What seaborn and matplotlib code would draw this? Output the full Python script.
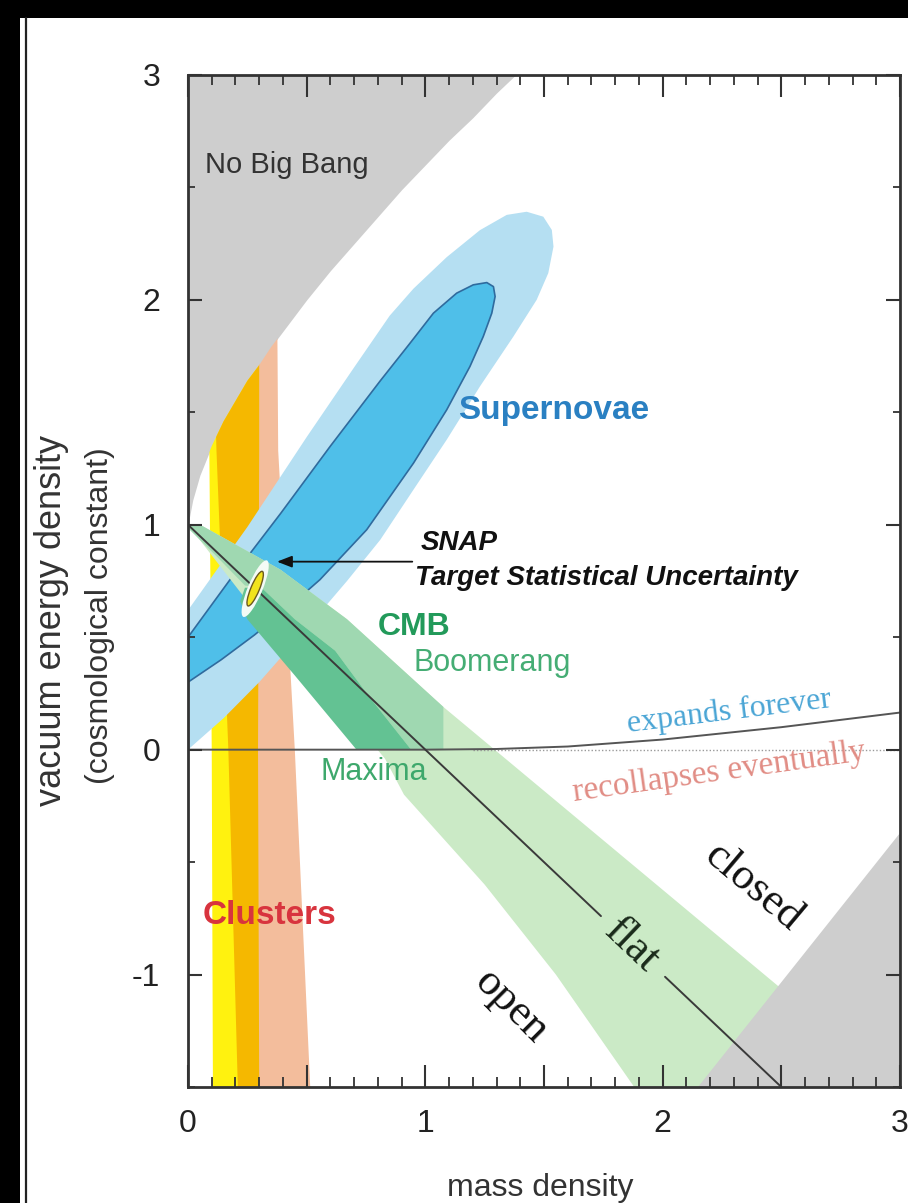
import numpy as np
import pandas as pd
import matplotlib
matplotlib.use("Agg")
import matplotlib.pyplot as plt
from matplotlib.patches import Polygon, Ellipse, Rectangle
from matplotlib.ticker import MultipleLocator, FuncFormatter
import seaborn as sns

# ---------------- data: mass density (x) vs vacuum energy density (y) ----------------
# edge of the "No Big Bang" region
nbb_x = [0.0, 0.02, 0.05, 0.1, 0.15, 0.2, 0.25, 0.3, 0.35, 0.4, 0.45, 0.5, 0.6, 0.7,
         0.8, 0.9, 1.0, 1.1, 1.2, 1.3, 1.4]
nbb_y = [1.0, 1.11, 1.22, 1.35, 1.46, 1.55, 1.64, 1.71, 1.79, 1.86, 1.93, 2.0, 2.13, 2.25,
         2.37, 2.49, 2.60, 2.71, 2.81, 2.92, 3.02]

# cluster bands: edge positions at a few heights
band_y = [-1.5, 0.0, 1.33, 2.1]
yellow_left = [0.105, 0.10, 0.09, 0.085]
orange_left = [0.21, 0.17, 0.12, 0.10]
orange_right = [0.30, 0.295, 0.30, 0.30]
pink_right = [0.515, 0.45, 0.38, 0.375]

# supernova confidence contours
sn_outer_x = [-0.1, 0.0, 0.25, 0.5, 0.7, 0.85, 0.95, 1.09, 1.23, 1.343, 1.427, 1.497,
              1.533, 1.54, 1.518, 1.469, 1.371, 1.23, 1.09, 0.95, 0.81, 0.67, 0.5, 0.3,
              0.15, 0.0, -0.1]
sn_outer_y = [0.47, 0.62, 0.99, 1.39, 1.70, 1.93, 2.05, 2.19, 2.31, 2.378, 2.392, 2.37,
              2.311, 2.237, 2.119, 2.0, 1.837, 1.615, 1.378, 1.156, 0.933, 0.75, 0.54, 0.30,
              0.14, 0.0, -0.1]
sn_inner_x = [-0.1, 0.0, 0.177, 0.39, 0.60, 0.81, 0.93, 1.034, 1.132, 1.202, 1.259, 1.287,
              1.294, 1.28, 1.244, 1.188, 1.09, 0.95, 0.753, 0.556, 0.42, 0.28, 0.14, 0.0, -0.1]
sn_inner_y = [0.36, 0.50, 0.756, 1.05, 1.35, 1.64, 1.80, 1.941, 2.03, 2.067, 2.077, 2.059,
              2.015, 1.941, 1.837, 1.704, 1.511, 1.274, 0.978, 0.756, 0.63, 0.51, 0.40, 0.30, 0.23]

# CMB constraints
cmb_x = [0.0, 0.06, 0.39, 0.67, 1.076, 2.55, 2.35, 1.95, 1.88, 1.55, 1.25, 0.91, 0.83, 0.60, 0.25, 0.0]
cmb_y = [1.0, 0.995, 0.80, 0.58, 0.19, -1.107, -1.62, -1.62, -1.5, -1.0, -0.60, -0.20, -0.04, 0.25, 0.66, 1.0]
boom_x = [0.0, 0.06, 0.39, 0.67, 1.076, 1.076, 0.94, 0.76, 0.62, 0.45, 0.31, 0.24, 0.12, 0.0]
boom_y = [1.0, 0.995, 0.80, 0.58, 0.19, 0.0, 0.0, 0.24, 0.44, 0.58, 0.72, 0.73, 0.86, 0.985]
maxi_x = [0.24, 0.31, 0.45, 0.62, 0.76, 0.94, 0.71, 0.45, 0.25, 0.22]
maxi_y = [0.72, 0.72, 0.58, 0.44, 0.24, 0.0, 0.0, 0.33, 0.58, 0.66]

# recollapse region (lower right)
rec_x = [3.0, 3.0, 2.15]
rec_y = [-0.37, -1.5, -1.5]

# expand / recollapse dividing line
div_x = [0.0, 1.0, 1.3, 1.6, 2.0, 2.5, 3.0]
div_y = [0.0, 0.0, 0.003, 0.014, 0.045, 0.10, 0.165]

# flat universe line, split around its label
flat_x = [0.0, 1.74, 2.01, 2.5]
flat_y = [1.0, -0.74, -1.01, -1.5]
flat_seg = ["a", "a", "b", "b"]

# SNAP target ellipse: centre, full axes, angle
snap_c = (0.283, 0.716)
snap_axes = (0.165, 0.036)
halo_axes = (0.27, 0.062)
snap_angle = 68.5

# arrow from the SNAP label to the ellipse
arrow_from = (0.945, 0.836)
arrow_to = (0.375, 0.836)

# ---------------- styling ----------------
sns.set_style("ticks")
plt.rcParams["font.family"] = ["Liberation Sans", "DejaVu Sans"]
SERIF = ["Liberation Serif", "DejaVu Serif"]

W, H = 908, 1203
fig = plt.figure(figsize=(W / 100, H / 100), dpi=100, facecolor="black")

# white panel with a thin inner rule on the left
fig.patches.append(Rectangle((20 / W, 0), 1, 1 - 18 / H, transform=fig.transFigure,
                             facecolor="white", edgecolor="none", zorder=-10))
fig.add_artist(plt.Line2D([26 / W, 26 / W], [0, 1 - 18 / H], transform=fig.transFigure,
                          color="#222222", lw=1.6, zorder=-5))

ax = fig.add_axes([188 / W, 1 - 1087 / H, (900 - 188) / W, (1087 - 75) / H])
ax.set_zorder(1)
ax.set_xlim(0, 3)
ax.set_ylim(-1.5, 3)
ax.set_facecolor("white")

GRAY = "#cecece"

# No Big Bang region
ax.fill_between(nbb_x, nbb_y, 3.2, color=GRAY, lw=0, zorder=1)

# region below the No Big Bang edge, used to trim the cluster bands
below = Polygon(list(zip(nbb_x, nbb_y)) + [(1.4, -2), (0, -2)], closed=True,
                transform=ax.transData, facecolor="none", edgecolor="none")
ax.add_patch(below)


def band(left, right, color, z):
    pts = list(zip(left, band_y)) + list(zip(right, band_y))[::-1]
    p = Polygon(pts, closed=True, facecolor=color, edgecolor="none", zorder=z)
    ax.add_patch(p)
    p.set_clip_path(below)


band(yellow_left, orange_right, "#fff20f", 2)
band(orange_left, orange_right, "#f5b800", 3)
band([v - 0.01 for v in orange_right], pink_right, "#f3bd9c", 2.5)

# supernova contours
ax.add_patch(Polygon(list(zip(sn_outer_x, sn_outer_y)), closed=True,
                     facecolor="#b5dff2", edgecolor="none", zorder=4))
ax.add_patch(Polygon(list(zip(sn_inner_x, sn_inner_y)), closed=True,
                     facecolor="#4fbfe9", edgecolor="#2f6b9e", lw=1.2, zorder=5,
                     joinstyle="round"))

# CMB contours
ax.add_patch(Polygon(list(zip(cmb_x, cmb_y)), closed=True,
                     facecolor="#cbeac6", edgecolor="none", zorder=6))
ax.add_patch(Polygon(list(zip(boom_x, boom_y)), closed=True,
                     facecolor="#9fd8b1", edgecolor="none", zorder=7))
ax.add_patch(Polygon(list(zip(maxi_x, maxi_y)), closed=True,
                     facecolor="#63c293", edgecolor="none", zorder=8))

# recollapse region
ax.fill(rec_x, rec_y, color=GRAY, lw=0, zorder=9)

# dividing lines
ax.plot([1.2, 3.0], [0.0, 0.0], ls=(0, (1, 1.5)), color="#9a9a9a", lw=1.0, zorder=10)
sns.lineplot(x=div_x, y=div_y, ax=ax, color="#555555", lw=1.4, zorder=11,
             sort=False, estimator=None)
flat_df = pd.DataFrame({"x": flat_x, "y": flat_y, "seg": flat_seg})
sns.lineplot(data=flat_df, x="x", y="y", units="seg", estimator=None, sort=False,
             ax=ax, color="#3a3a3a", lw=1.4, zorder=11)

# SNAP ellipse
ax.add_patch(Ellipse(snap_c, halo_axes[0], halo_axes[1], angle=snap_angle,
                     facecolor="#f4fbf6", edgecolor="none", zorder=12))
ax.add_patch(Ellipse(snap_c, snap_axes[0], snap_axes[1], angle=snap_angle,
                     facecolor="#f2e41e", edgecolor="#6b5a20", lw=1.0, zorder=13))
ax.annotate("", xy=arrow_to, xytext=arrow_from, zorder=14,
            arrowprops=dict(arrowstyle="-|>,head_length=0.9,head_width=0.35",
                            color="#111111", lw=1.3, shrinkA=0, shrinkB=0))

# labels
ax.text(0.072, 2.60, "No Big Bang", fontsize=21, color="#333333", va="center", zorder=15)
ax.text(1.14, 1.51, "Supernovae", fontsize=24, fontweight="bold", color="#2a80c2",
        va="center", zorder=15)
ax.text(0.98, 0.92, "SNAP", fontsize=20, fontweight="bold", style="italic",
        color="#111111", va="center", zorder=15)
ax.text(0.955, 0.765, "Target Statistical Uncertainty", fontsize=20, fontweight="bold",
        style="italic", color="#111111", va="center", zorder=15)
ax.text(0.80, 0.547, "CMB", fontsize=23, fontweight="bold", color="#229a5a",
        va="center", zorder=15)
ax.text(0.95, 0.387, "Boomerang", fontsize=22, color="#45ad74", va="center", zorder=15)
ax.text(0.557, -0.098, "Maxima", fontsize=22, color="#3ea86c", va="center", zorder=15)
ax.text(0.06, -0.738, "Clusters", fontsize=24, fontweight="bold", color="#d8343e",
        va="center", zorder=15)
ax.text(2.28, 0.17, "expands forever", fontsize=23, family=SERIF, color="#4aa5d5",
        rotation=7, ha="center", va="center", rotation_mode="anchor", zorder=15)
ax.text(2.24, -0.10, "recollapses eventually", fontsize=24, family=SERIF,
        color="#e18d85", rotation=8, ha="center", va="center", rotation_mode="anchor",
        zorder=15)
ax.text(2.38, -0.61, "closed", fontsize=32, family=SERIF, color="#111111",
        rotation=-40, ha="center", va="center", rotation_mode="anchor", zorder=15)
ax.text(1.87, -0.87, "flat", fontsize=32, family=SERIF, color="#1a2a1a",
        rotation=-43.5, ha="center", va="center", rotation_mode="anchor", zorder=15)
ax.text(1.36, -1.14, "open", fontsize=32, family=SERIF, color="#111111",
        rotation=-45, ha="center", va="center", rotation_mode="anchor", zorder=15)

# axes, ticks (kept above the shaded regions)
for s in ax.spines.values():
    s.set_color("#333333")
    s.set_linewidth(2.0)
    s.set_zorder(20)
ax.xaxis.set_zorder(30)
ax.yaxis.set_zorder(30)
ax.xaxis.set_major_locator(MultipleLocator(0.5))
ax.xaxis.set_minor_locator(MultipleLocator(0.1))
ax.xaxis.set_major_formatter(FuncFormatter(lambda v, p: "%d" % v if abs(v - round(v)) < 1e-6 else ""))
ax.yaxis.set_major_locator(MultipleLocator(1))
ax.yaxis.set_minor_locator(MultipleLocator(0.5))
ax.yaxis.set_major_formatter(FuncFormatter(lambda v, p: "%d" % v))
ax.tick_params(axis="x", which="major", direction="in", length=16, width=1.5,
               top=True, bottom=True, labelsize=23, pad=16, colors="#333333",
               labelcolor="#222222")
ax.tick_params(axis="x", which="minor", direction="in", length=7, width=1.3,
               top=True, bottom=True, colors="#333333")
ax.tick_params(axis="y", which="major", direction="in", length=10, width=1.5,
               left=True, right=True, labelsize=23, pad=20, colors="#333333",
               labelcolor="#222222")
ax.tick_params(axis="y", which="minor", direction="in", length=5, width=1.3,
               left=True, right=True, colors="#333333")
ax.set_xlabel("")
ax.set_ylabel("")

fig.text(52 / W, 1 - 620 / H, "vacuum energy density", rotation=90, fontsize=26,
         color="#333333", ha="center", va="center")
fig.text(100 / W, 1 - 616 / H, "(cosmological constant)", rotation=90, fontsize=23,
         color="#333333", ha="center", va="center")
fig.text(540 / W, 1 - 1196 / H, "mass density", fontsize=23, color="#333333",
         ha="center", va="baseline")

fig.savefig("out.png", dpi=100, facecolor="black")
